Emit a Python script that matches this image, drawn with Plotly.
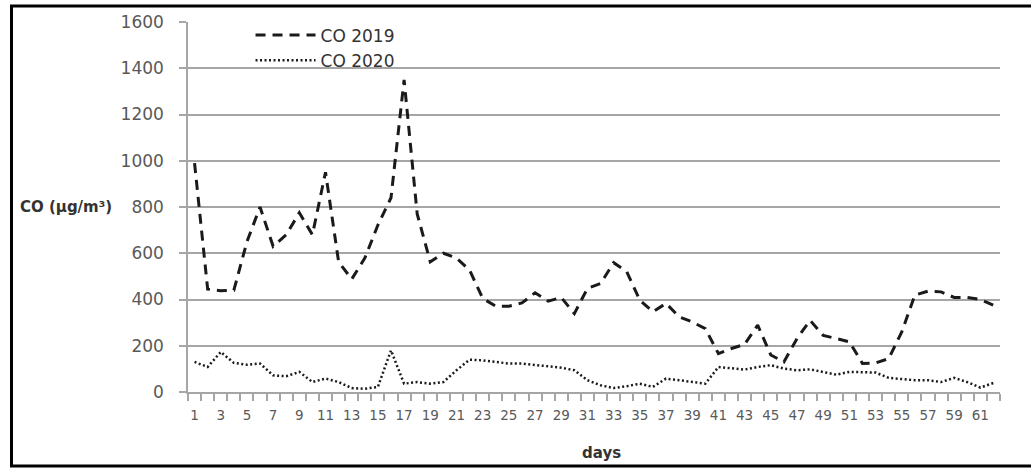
import plotly.graph_objects as go

days = list(range(1, 63))
co_2019 = [990, 445, 438, 440, 650, 800, 630, 680, 775, 680,
           950, 563, 488, 579, 722, 840, 1350, 770, 563, 600,
           579, 527, 405, 371, 371, 385, 429, 393, 409, 339,
           448, 469, 559, 520, 397, 347, 383, 325, 303, 274,
           166, 188, 206, 289, 160, 130, 231, 310, 245, 231,
           217, 123, 126, 144, 260, 419, 436, 433, 409, 409,
           400, 375]
co_2020 = [130, 108, 173, 126, 118, 123, 72, 68, 87, 43,
           58, 43, 17, 14, 22, 180, 36, 43, 36, 43,
           94, 140, 137, 130, 123, 123, 118, 113, 105, 94,
           51, 29, 17, 25, 36, 22, 58, 51, 43, 36,
           108, 104, 97, 108, 116, 101, 94, 98, 87, 75,
           87, 84, 84, 61, 55, 51, 51, 43, 61, 43,
           19, 39]
x_tick_vals = list(range(1, 63, 2))
x_tick_text = [str(v) for v in x_tick_vals]
y_tick_vals = list(range(0, 1601, 200))

FONT = "DejaVu Sans"
GRID = "#A6A6A6"
TXT = "#595959"

fig = go.Figure()
fig.add_trace(go.Scatter(x=days, y=co_2019, mode="lines", name="CO 2019",
                         line=dict(color="#1a1a1a", width=3, dash="10px,7px")))
fig.add_trace(go.Scatter(x=days, y=co_2020, mode="lines", name="CO 2020",
                         line=dict(color="#1a1a1a", width=2.5, dash="2px,2.5px")))

fig.update_layout(
    width=1031, height=468,
    margin=dict(l=188, r=31, t=22, b=76),
    paper_bgcolor="white", plot_bgcolor="white",
    font=dict(family=FONT, color=TXT),
    showlegend=True,
    legend=dict(x=0.077, y=1.012, xanchor="left", yanchor="top",
                bgcolor="rgba(255,255,255,0)", font=dict(size=17, color="#333333"),
                itemwidth=60, tracegroupgap=0),
    xaxis=dict(range=[0.5, 62.5], tickmode="array", tickvals=x_tick_vals, ticktext=x_tick_text,
               ticks="", ticklabelstandoff=10, tickfont=dict(size=13.5, color=TXT),
               showgrid=False, zeroline=False, showline=True, linecolor=GRID, linewidth=1.5,
               minor=dict(tickmode="array", tickvals=[v + 0.5 for v in range(0, 63)],
                          ticks="outside", ticklen=7, tickcolor=GRID, tickwidth=1.5, showgrid=False)),
    yaxis=dict(range=[0, 1600], tickmode="array", tickvals=y_tick_vals,
               ticks="outside", ticklen=7, tickcolor=GRID, tickwidth=1.5,
               ticklabelstandoff=12, tickfont=dict(size=17, color=TXT),
               showgrid=True, gridcolor=GRID, gridwidth=1.5, zeroline=False,
               showline=True, linecolor=GRID, linewidth=1.5),
    shapes=[dict(type="rect", xref="paper", yref="paper",
                 x0=(11.5 - 188) / 812, x1=(1040 - 188) / 812,
                 y0=(392 - 466) / 370, y1=(392 - 6) / 370,
                 line=dict(color="black", width=3), fillcolor="rgba(0,0,0,0)", layer="below")],
    annotations=[
        dict(text="<b>CO (µg/m³)</b>", xref="paper", yref="y", x=(18 - 188) / 812, y=800,
             xanchor="left", yanchor="middle", showarrow=False,
             font=dict(size=15, color="#333333", family=FONT)),
        dict(text="<b>days</b>", xref="paper", yref="paper", x=(601 - 188) / 812, y=(392 - 453) / 370,
             xanchor="center", yanchor="middle", showarrow=False,
             font=dict(size=15, color="#333333", family=FONT)),
    ],
)

fig.write_html("out.html", config={"displayModeBar": False},
               post_script="document.body.style.margin='0px';document.body.style.overflow='hidden';")
